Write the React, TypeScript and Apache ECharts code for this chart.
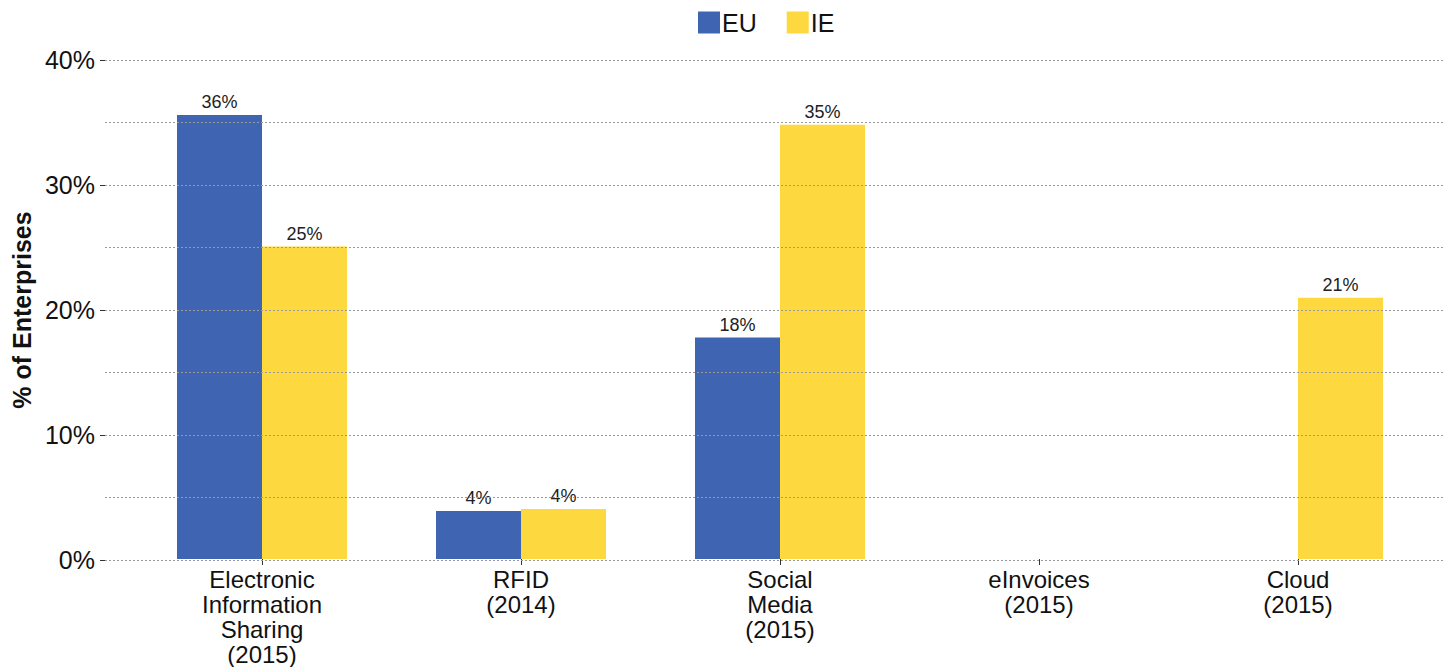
import React, { useEffect, useRef } from "react";
import * as echarts from "echarts";

const categories = [
  "Electronic\nInformation\nSharing\n(2015)",
  "RFID\n(2014)",
  "Social\nMedia\n(2015)",
  "eInvoices\n(2015)",
  "Cloud\n(2015)",
];
const euValues: (number | null)[] = [35.6, 3.85, 17.75, null, null];
const ieValues: (number | null)[] = [25.05, 4.0, 34.8, null, 20.95];
const seriesNames = ["EU", "IE"];
const colors = ["#3F65B2", "#FED83F"];

const FONT = "Liberation Sans, Arial, sans-serif";

export default function App() {
  const ref = useRef<HTMLDivElement>(null);
  useEffect(() => {
    if (!ref.current) return;
    const chart = echarts.init(ref.current, null, { renderer: "svg" });
    const label = {
      show: true,
      position: "top" as const,
      distance: 4,
      fontSize: 18,
      color: "#222",
      fontFamily: FONT,
      formatter: (p: any) => `${Math.round(p.value)}%`,
    };
    chart.setOption({
      animation: false,
      textStyle: { fontFamily: FONT },
      legend: {
        top: 10,
        left: 698,
        padding: 0,
        itemWidth: 22,
        itemHeight: 22,
        itemGap: 30,
        icon: "rect",
        textStyle: { fontSize: 25, color: "#111", fontFamily: FONT, padding: [0, 0, 0, -3] },
        data: seriesNames,
      },
      grid: [
        { left: 105, right: 0, top: 60, height: 500 },
        { left: 132.5, right: 15.5, top: 60, height: 500 },
      ],
      xAxis: [
        { gridIndex: 0, type: "value", min: 0, max: 1, show: false },
        {
          gridIndex: 1,
          type: "category",
          data: categories,
          axisLine: { show: false },
          axisTick: { show: true, alignWithLabel: true, length: 6, lineStyle: { color: "#333" } },
          axisLabel: { fontSize: 24, lineHeight: 25, color: "#111", margin: 8, fontFamily: FONT, interval: 0 },
        },
      ],
      yAxis: [
        {
          gridIndex: 0,
          type: "value",
          min: 0,
          max: 40,
          interval: 10,
          z: 10,
          name: "% of Enterprises",
          nameLocation: "middle",
          nameRotate: 90,
          nameGap: 66,
          nameTextStyle: { fontSize: 25, fontWeight: "bold", color: "#111", fontFamily: FONT },
          axisLine: { show: false },
          axisTick: { show: true, length: 5, lineStyle: { color: "#333" } },
          axisLabel: { fontSize: 25, color: "#111", margin: 10, formatter: "{value}%", fontFamily: FONT },
          splitLine: { show: true, lineStyle: { color: "#999", type: [2, 2], width: 1 } },
          minorTick: { show: false, splitNumber: 2 },
          minorSplitLine: { show: true, lineStyle: { color: "#999", type: [2, 2], width: 1 } },
        },
        { gridIndex: 1, type: "value", min: 0, max: 40, show: false },
      ],
      series: [
        {
          name: seriesNames[0],
          type: "bar",
          xAxisIndex: 1,
          yAxisIndex: 1,
          data: euValues,
          barWidth: 85,
          barGap: "0%",
          itemStyle: { color: colors[0] },
          label,
        },
        {
          name: seriesNames[1],
          type: "bar",
          xAxisIndex: 1,
          yAxisIndex: 1,
          data: ieValues,
          barWidth: 85,
          barGap: "0%",
          itemStyle: { color: colors[1] },
          label,
        },
      ],
    });
    return () => chart.dispose();
  }, []);
  return (
    <div
      ref={ref}
      style={{ position: "fixed", left: 0, top: 0, width: 1443, height: 667, background: "#fff" }}
    />
  );
}
